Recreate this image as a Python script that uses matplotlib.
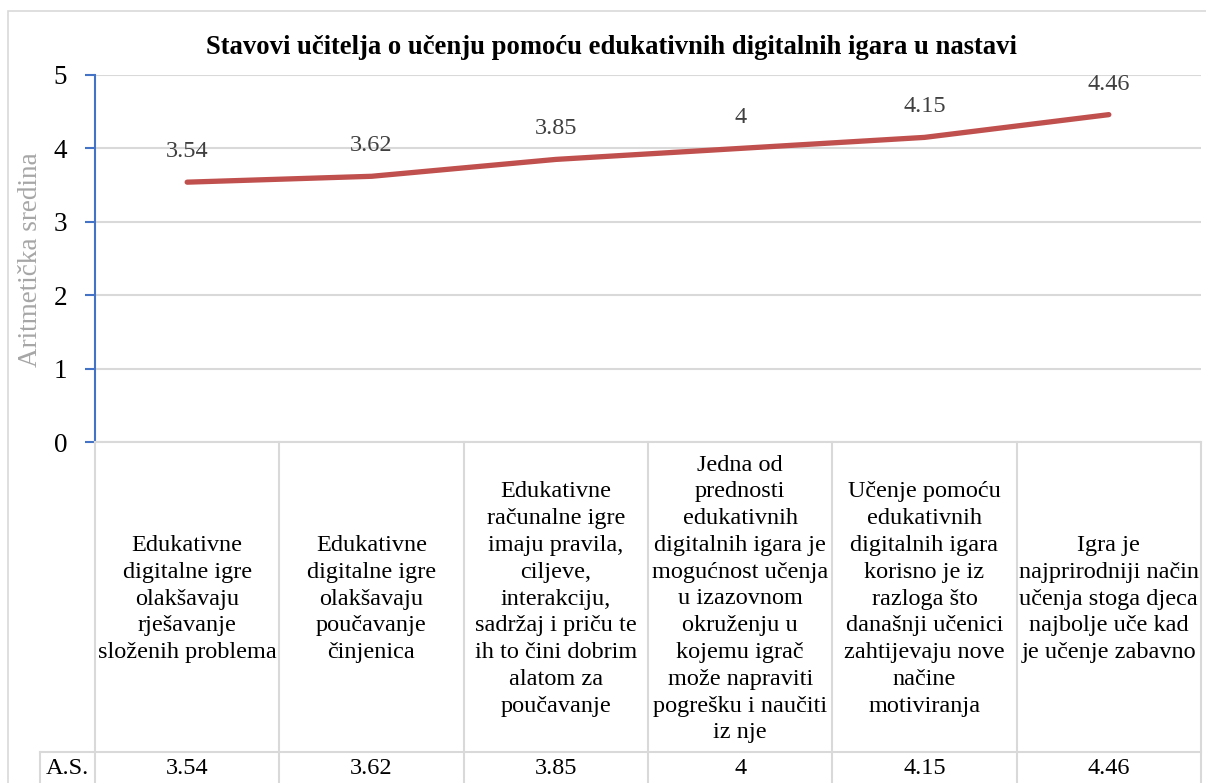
import matplotlib
matplotlib.use("Agg")
import matplotlib.pyplot as plt
from matplotlib.patches import Rectangle

plt.rcParams['font.family'] = ['Liberation Serif', 'DejaVu Serif']

# chart data
title = "Stavovi učitelja o učenju pomoću edukativnih digitalnih igara u nastavi"
y_label = "Aritmetička sredina"
row_label = "A.S."
categories = [
    "Edukativne\ndigitalne igre\nolakšavaju\nrješavanje\nsloženih problema",
    "Edukativne\ndigitalne igre\nolakšavaju\npoučavanje\nčinjenica",
    "Edukativne\nračunalne igre\nimaju pravila,\nciljeve,\ninterakciju,\nsadržaj i priču te\nih to čini dobrim\nalatom za\npoučavanje",
    "Jedna od\nprednosti\nedukativnih\ndigitalnih igara je\nmogućnost učenja\nu izazovnom\nokruženju u\nkojemu igrač\nmože napraviti\npogrešku i naučiti\niz nje",
    "Učenje pomoću\nedukativnih\ndigitalnih igara\nkorisno je iz\nrazloga što\ndanašnji učenici\nzahtijevaju nove\nnačine\nmotiviranja",
    "Igra je\nnajprirodniji način\nučenja stoga djeca\nnajbolje uče kad\nje učenje zabavno",
]
means = [3.54, 3.62, 3.85, 4, 4.15, 4.46]
value_labels = ["3.54", "3.62", "3.85", "4", "4.15", "4.46"]
y_ticks = [0, 1, 2, 3, 4, 5]

W, H = 1206, 783
fig = plt.figure(figsize=(W / 100, H / 100), dpi=100)

# outer chart border (only top and left visible, rest is cut off)
fig.add_artist(Rectangle((8 / W, -0.1), 1.2, (H - 11) / H + 0.1,
                         transform=fig.transFigure, fill=False,
                         edgecolor='#D9D9D9', linewidth=1.2))

ax = fig.add_axes([95 / W, 1 - 442 / H, (1201 - 95) / W, (442 - 75) / H])
x = list(range(len(means)))
ax.plot(x, means, color='#C0504D', linewidth=3.8, solid_capstyle='round',
        solid_joinstyle='round', zorder=3)
for xi, v, lab in zip(x, means, value_labels):
    ax.annotate(lab, (xi, v), xytext=(0, 22), textcoords='offset points',
                ha='center', va='center', fontsize=17.5, color='#404040')

ax.set_xlim(-0.5, len(means) - 0.5)
ax.set_ylim(0, 5)
ax.set_yticks(y_ticks)
ax.set_yticklabels([str(t) for t in y_ticks], fontsize=19.5)
ax.set_xticks([])
ax.grid(axis='y', color='#D9D9D9', linewidth=1.5)
ax.set_axisbelow(True)
for s in ['top', 'right']:
    ax.spines[s].set_visible(False)
ax.spines['left'].set_color('#4472C4')
ax.spines['left'].set_linewidth(1.5)
ax.spines['bottom'].set_color('#D9D9D9')
ax.spines['bottom'].set_linewidth(1.5)
ax.tick_params(axis='y', length=7, width=1.5, color='#4472C4', pad=13)

fig.text(31 / W, 1 - 260 / H, y_label, rotation=90, ha='center', va='center',
         fontsize=19.5, color='#A6A6A6')
fig.text(611 / W, 1 - 47 / H, title, ha='center', va='center',
         fontsize=19.2, fontweight='bold')

# data table below the axis
tab = fig.add_axes([95 / W, 0, (1201 - 95) / W, (H - 442) / H])
tab.set_xlim(-0.5, len(means) - 0.5)
tab.set_ylim(H - 442, 0)
tab.axis('off')
grid_kw = dict(color='#D9D9D9', linewidth=1.5, clip_on=False)
row_y = 310
for i in range(len(means) + 1):
    tab.plot([i - 0.5, i - 0.5], [0, H - 442], **grid_kw)
left_edge = -0.5 - 55 / ((1201 - 95) / len(means))
tab.plot([left_edge, len(means) - 0.5], [row_y, row_y], **grid_kw)
tab.plot([left_edge, left_edge], [row_y, H - 442], **grid_kw)
for i, (cat, lab) in enumerate(zip(categories, value_labels)):
    tab.text(i, row_y / 2 + 2, cat, ha='center', va='center', fontsize=17.5,
             linespacing=1.36)
    tab.text(i, row_y + 17, lab, ha='center', va='center', fontsize=17.5)
tab.text(left_edge + 0.03, row_y + 17, row_label, ha='left', va='center',
         fontsize=17.5)

fig.savefig('out.png', dpi=100)
